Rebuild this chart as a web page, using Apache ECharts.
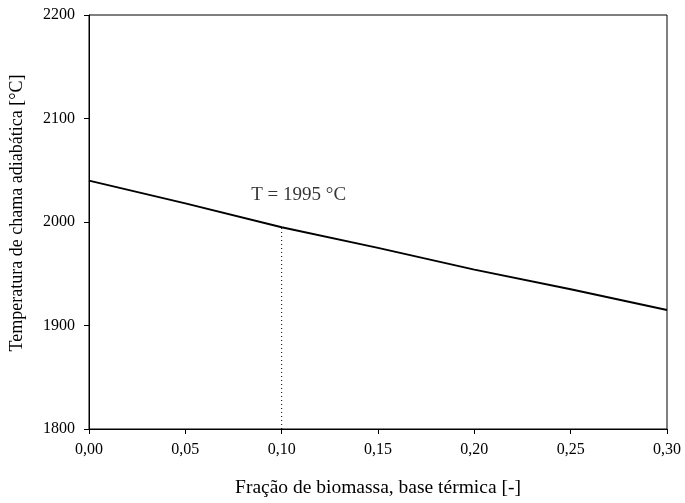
<!DOCTYPE html>
<html>
<head>
<meta charset="utf-8">
<script src="https://cdn.jsdelivr.net/npm/echarts@6/dist/echarts.min.js"></script>
<style>
  html, body { margin: 0; padding: 0; background: #fff; }
  #chart { width: 685px; height: 503px; }
</style>
</head>
<body>
<div id="chart"></div>
<script>
// Adiabatic flame temperature vs. biomass fraction (thermal basis)
const biomassFraction = [0.00, 0.05, 0.10, 0.15, 0.20, 0.25, 0.30];
const flameTemp = [2040, 2018, 1995, 1975, 1954, 1935, 1915];
const markerFraction = 0.10;
const markerTemp = 1995;
const xTicks = [0.00, 0.05, 0.10, 0.15, 0.20, 0.25, 0.30];
const yTicks = [1800, 1900, 2000, 2100, 2200];

const serif = '"Liberation Serif", "DejaVu Serif", serif';

const chart = echarts.init(document.getElementById('chart'));

chart.setOption({
  backgroundColor: '#fff',
  animation: false,
  grid: {
    left: 89, right: 18, top: 15, bottom: 73,
    show: true, borderColor: '#000', borderWidth: 1, backgroundColor: 'transparent'
  },
  xAxis: {
    type: 'value',
    min: xTicks[0], max: xTicks[xTicks.length - 1], interval: 0.05,
    name: 'Fração de biomassa, base térmica [-]',
    nameLocation: 'middle', nameGap: 49,
    nameTextStyle: { fontFamily: serif, fontSize: 19.5, color: '#000' },
    axisLine: { show: true, lineStyle: { color: '#000', width: 1 } },
    axisTick: { show: true, inside: false, length: 5, lineStyle: { color: '#000' } },
    axisLabel: {
      margin: 13, fontFamily: serif, fontSize: 16, color: '#000',
      formatter: v => v.toFixed(2).replace('.', ',')
    },
    splitLine: { show: false }
  },
  yAxis: {
    type: 'value',
    min: yTicks[0], max: yTicks[yTicks.length - 1], interval: 100,
    name: 'Temperatura de chama adiabática [°C]',
    nameLocation: 'middle', nameGap: 63,
    nameTextStyle: { fontFamily: serif, fontSize: 18, color: '#000', padding: [0, 0, 0, 18] },
    axisLine: { show: true, lineStyle: { color: '#000', width: 1 } },
    axisTick: { show: true, inside: false, length: 5, lineStyle: { color: '#000' } },
    axisLabel: {
      margin: 14, fontFamily: serif, fontSize: 16, color: '#000',
      formatter: v => String(v)
    },
    splitLine: { show: false }
  },
  series: [
    {
      type: 'line',
      data: biomassFraction.map((x, i) => [x, flameTemp[i]]),
      showSymbol: false,
      lineStyle: { color: '#000', width: 2 },
      z: 3
    },
    {
      type: 'line',
      data: [[markerFraction, yTicks[0]], [markerFraction, markerTemp]],
      showSymbol: false,
      lineStyle: { color: '#000', width: 1, type: [1, 3] },
      z: 2
    },
    {
      type: 'scatter',
      data: [[markerFraction, markerTemp]],
      symbolSize: 0,
      itemStyle: { color: '#000' },
      label: {
        show: true,
        position: 'top',
        distance: 23,
        offset: [17, 0],
        fontFamily: serif, fontSize: 19, color: '#000',
        formatter: p => 'T = ' + p.value[1] + ' °C'
      },
      z: 4
    }
  ]
});
</script>
</body>
</html>
